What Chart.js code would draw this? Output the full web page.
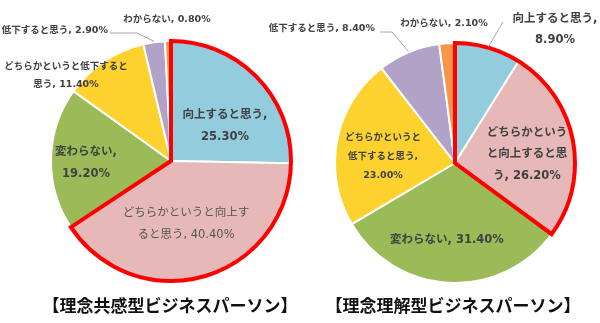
<!DOCTYPE html>
<html>
<head>
<meta charset="utf-8">
<script src="https://cdn.jsdelivr.net/npm/chart.js@4"></script>
<style>
  body { margin: 0; background: #fff; width: 600px; height: 323px; overflow: hidden; position: relative; font-family: "Noto Sans CJK JP", sans-serif; }
  .box { position: absolute; top: 0; height: 323px; }
  .title { position: absolute; top: 293px; width: 300px; text-align: center; font-weight: bold; font-size: 17px; color: #111; line-height: 24px; }
</style>
</head>
<body>
<div class="box" style="left:0;width:300px"><canvas id="left" width="300" height="323"></canvas></div>
<div class="box" style="left:250px;width:350px"><canvas id="right" width="350" height="323"></canvas></div>
<div class="title" id="titleLeft" style="left:20px"></div>
<div class="title" id="titleRight" style="left:303px"></div>
<script>
const categories = ['向上すると思う', 'どちらかというと向上すると思う', '変わらない', 'どちらかというと低下すると思う', '低下すると思う', 'わからない'];
const empathyValues = [25.3, 40.4, 19.2, 11.4, 2.9, 0.8];
const understandingValues = [8.9, 26.2, 31.4, 23.0, 8.4, 2.1];
const chartTitles = ['【理念共感型ビジネスパーソン】', '【理念理解型ビジネスパーソン】'];

const sliceColors = ['#93CDDD', '#E6B9B8', '#9BBB59', '#FDD22F', '#B3A2C7', '#F79646'];
const labelFont = '"DejaVu Sans", "Noto Sans CJK JP"';

// label placement, relative to the pie centre
const leftLayout = [
  {dx: 54, dy: -46, cuts: [8], size: 11.5, gap: 22},
  {dx: 15, dy: 52, cuts: [11], size: 11.5, gap: 22, weight: 'normal', color: '#555'},
  {dx: -85, dy: -9, cuts: [6], size: 11.5, gap: 22},
  {dx: -105, dy: -94, cuts: [13], size: 9.5, gap: 18},
  {dx: -63, dy: -130, cuts: [], size: 9.5, align: 'right', leader: [[-61, -128], [-34, -128]]},
  {dx: -4, dy: -141, cuts: [], size: 9.5}
];
const rightLayout = [
  {dx: 100, dy: -144, cuts: [8], size: 11.5, gap: 21, leader: [[48, -141]]},
  {dx: 72, dy: -30, cuts: [7, 14], size: 11.5, gap: 21.5},
  {dx: -8, dy: 77, cuts: [], size: 11.5},
  {dx: -72, dy: -25, cuts: [8, 16], size: 9.5, gap: 19},
  {dx: -80, dy: -134, cuts: [], size: 9.5, align: 'right', leader: [[-75, -131], [-63, -131]]},
  {dx: -11, dy: -139, cuts: [], size: 9.5}
];

function splitLabel(text, cuts) {
  const lines = [];
  let last = 0;
  cuts.forEach(c => { lines.push(text.slice(last, c).trim()); last = c; });
  lines.push(text.slice(last).trim());
  return lines;
}

const pieLabels = {
  id: 'pieLabels',
  afterDatasetsDraw(chart, args, opts) {
    const ctx = chart.ctx;
    const arcs = chart.getDatasetMeta(0).data;
    const values = chart.data.datasets[0].data;
    const cx = arcs[0].x, cy = arcs[0].y, r = arcs[0].outerRadius;

    // red outline round the two "improve" slices
    ctx.save();
    ctx.beginPath();
    ctx.moveTo(cx, cy);
    ctx.arc(cx, cy, r, arcs[0].startAngle, arcs[1].endAngle);
    ctx.closePath();
    ctx.lineWidth = 4;
    ctx.lineJoin = 'miter';
    ctx.strokeStyle = '#FF0000';
    ctx.stroke();
    ctx.restore();

    opts.layout.forEach((lay, i) => {
      const arc = arcs[i];
      if (lay.leader) {
        const mid = (arc.startAngle + arc.endAngle) / 2;
        ctx.save();
        ctx.beginPath();
        ctx.moveTo(cx + lay.leader[0][0], cy + lay.leader[0][1]);
        lay.leader.slice(1).forEach(p => ctx.lineTo(cx + p[0], cy + p[1]));
        ctx.lineTo(cx + Math.cos(mid) * (r + 1), cy + Math.sin(mid) * (r + 1));
        ctx.strokeStyle = '#A6A6A6';
        ctx.lineWidth = 1;
        ctx.stroke();
        ctx.restore();
      }
      const text = categories[i] + ', ' + values[i].toFixed(2) + '%';
      const lines = splitLabel(text, lay.cuts);
      ctx.save();
      ctx.font = (lay.weight || 'bold') + ' ' + lay.size + 'px ' + labelFont;
      ctx.fillStyle = lay.color || '#404040';
      ctx.textAlign = lay.align || 'center';
      ctx.textBaseline = 'middle';
      lines.forEach((ln, k) => ctx.fillText(ln, cx + lay.dx, cy + lay.dy + k * (lay.gap || 20)));
      ctx.restore();
    });
  }
};

function makePie(id, values, layout, padding) {
  return new Chart(document.getElementById(id), {
    type: 'pie',
    data: {
      labels: categories,
      datasets: [{
        data: values,
        backgroundColor: sliceColors,
        borderColor: '#FFFFFF',
        borderWidth: 2
      }]
    },
    options: {
      responsive: false,
      animation: false,
      radius: 120,
      layout: {padding: padding},
      plugins: {
        legend: {display: false},
        tooltip: {enabled: false},
        pieLabels: {layout: layout}
      }
    },
    plugins: [pieLabels]
  });
}

makePie('left', empathyValues, leftLayout, {left: 51, right: 9, top: 41, bottom: 42});
makePie('right', understandingValues, rightLayout, {left: 85, right: 25, top: 43, bottom: 40});

document.getElementById('titleLeft').textContent = chartTitles[0];
document.getElementById('titleRight').textContent = chartTitles[1];
</script>
</body>
</html>
